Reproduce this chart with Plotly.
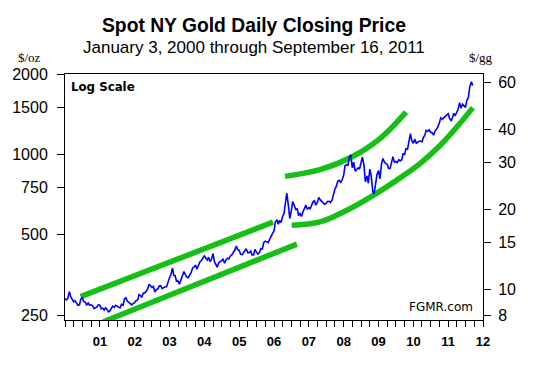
import numpy as np
import pandas as pd
import plotly.graph_objects as go

# Semi-monthly (1st, 15th) spot gold closes, $/oz
gold_2000 = [288, 285, 289, 306, 293, 287, 280, 283, 276, 272, 273, 287,
             290, 281, 279, 273, 277, 272, 273, 271, 264, 266, 268, 273]
gold_2001 = [272, 264, 265, 261, 266, 263, 257, 259, 265, 270, 267, 272,
             270, 267, 266, 274, 272, 287, 290, 282, 279, 275, 273, 276]
gold_2002 = [278, 283, 285, 298, 296, 291, 302, 302, 309, 312, 326, 320,
             317, 320, 305, 311, 313, 321, 322, 314, 318, 319, 319, 333]
gold_2003 = [345, 354, 375, 352, 351, 335, 335, 326, 339, 353, 364, 355,
             347, 345, 353, 360, 376, 378, 385, 371, 384, 395, 400, 409]
gold_2004 = [416, 409, 402, 412, 396, 404, 425, 397, 387, 378, 393, 395,
             400, 405, 391, 402, 408, 406, 417, 420, 428, 438, 453, 440]
gold_2005 = [436, 422, 421, 428, 435, 443, 428, 428, 434, 420, 420, 440,
             430, 423, 429, 443, 442, 468, 473, 470, 467, 480, 497, 505]
gold_2006 = [517, 558, 569, 547, 566, 555, 585, 600, 660, 715, 640, 575,
             615, 665, 645, 622, 625, 590, 600, 585, 610, 625, 645, 622]
gold_2007 = [632, 626, 650, 665, 670, 645, 662, 690, 675, 666, 660, 650,
             655, 666, 667, 660, 673, 710, 740, 758, 795, 800, 785, 800]
gold_2008 = [835, 906, 915, 910, 975, 995, 890, 935, 865, 875, 890, 880,
             935, 975, 913, 790, 830, 780, 880, 835, 725, 712, 775, 840]
gold_2009 = [870, 810, 920, 965, 940, 925, 920, 885, 885, 925, 980, 935,
             940, 930, 955, 945, 955, 1005, 1000, 1050, 1045, 1115, 1195, 1125]
gold_2010 = [1100, 1140, 1100, 1110, 1120, 1120, 1115, 1155, 1180, 1230, 1220, 1235,
             1210, 1205, 1180, 1220, 1250, 1268, 1315, 1370, 1355, 1370, 1385, 1400]
gold_2011 = [1420, 1365, 1335, 1375, 1425, 1395, 1430, 1475, 1560, 1490, 1540, 1525,
             1500, 1590, 1640, 1790, 1870, 1810]

gold_prices = (gold_2000 + gold_2001 + gold_2002 + gold_2003 + gold_2004 + gold_2005 +
               gold_2006 + gold_2007 + gold_2008 + gold_2009 + gold_2010 + gold_2011)
gold_dates = pd.date_range("2000-01-01", periods=len(gold_prices), freq="SMS")

# Green trend channel lines (date, $/oz)
chan1_dates = ["2000-06-13", "2005-12-20"]
chan1_vals = [293, 557]
chan2_dates = ["2001-02-06", "2006-08-29"]
chan2_vals = [236, 461]
curve_up_dates = ["2006-04-26", "2007-04-27", "2008-03-25", "2009-01-15", "2009-10-16"]
curve_up_vals = [827, 876, 977, 1145, 1440]
curve_lo_dates = ["2006-07-05", "2007-04-27", "2008-02-03", "2008-11-06", "2009-07-08",
                  "2010-03-11", "2010-10-09", "2011-04-01", "2011-09-16"]
curve_lo_vals = [542, 558, 617, 702, 799, 923, 1081, 1265, 1496]

oz_ticks = [250, 500, 750, 1000, 1500, 2000]
gg_ticks = [8, 10, 15, 20, 30, 40, 60]
year_ticks = [f"{y}-01-01" for y in range(2001, 2013)]
year_labels = [f"{y % 100:02d}" for y in range(2001, 2013)]
GRAMS_PER_OZ = 31.1035

GREEN = "#14C014"
fig = go.Figure()
for d, v, shape in [(chan1_dates, chan1_vals, "linear"), (chan2_dates, chan2_vals, "linear"),
                    (curve_up_dates, curve_up_vals, "spline"), (curve_lo_dates, curve_lo_vals, "spline")]:
    fig.add_trace(go.Scatter(x=d, y=v, mode="lines", line=dict(color=GREEN, width=5.5, shape=shape),
                             hoverinfo="skip", showlegend=False))
fig.add_trace(go.Scatter(x=gold_dates, y=gold_prices, mode="lines",
                         line=dict(color="#0000FF", width=1.6), showlegend=False))
# invisible trace for the right axis
fig.add_trace(go.Scatter(x=[gold_dates[0]], y=[gold_prices[0] / GRAMS_PER_OZ], yaxis="y2",
                         mode="markers", marker=dict(opacity=0), showlegend=False, hoverinfo="skip"))

ylo, yhi = np.log10(239.5), np.log10(2000)
tickfont = dict(family="Arial, Liberation Sans", size=16, color="black")
fig.update_layout(
    width=543, height=369,
    margin=dict(l=65, r=60, t=74, b=49),
    paper_bgcolor="white", plot_bgcolor="white",
    xaxis=dict(type="date", range=["2000-01-01", "2012-01-01"],
               tickvals=year_ticks, ticktext=year_labels,
               ticks="outside", ticklen=6, tickcolor="black",
               minor=dict(ticks="outside", dtick="M3", tick0="2000-01-01", ticklen=6, tickcolor="black"),
               showline=True, linecolor="black", linewidth=1, mirror=True,
               showgrid=False, zeroline=False, ticklabelstandoff=3,
               tickfont=dict(family="Arial, Liberation Sans", size=13, color="black", weight="bold")),
    yaxis=dict(type="log", range=[ylo, yhi], tickvals=oz_ticks, ticktext=[str(t) for t in oz_ticks],
               ticks="outside", ticklen=7, tickcolor="black", showline=True, linecolor="black",
               mirror=True, showgrid=False, zeroline=False, tickfont=tickfont, ticklabelstandoff=6),
    yaxis2=dict(type="log", overlaying="y", side="right",
                range=[ylo - np.log10(GRAMS_PER_OZ), yhi - np.log10(GRAMS_PER_OZ)],
                tickvals=gg_ticks, ticktext=[str(t) for t in gg_ticks],
                ticks="outside", ticklen=7, tickcolor="black", showline=True, linecolor="black",
                showgrid=False, zeroline=False, tickfont=tickfont, ticklabelstandoff=4),
)

def ann(text, x, y, size, family="Arial, Liberation Sans", bold=False, xanchor="center", pad=1):
    fig.add_annotation(text=text, x=x, y=y, xref="paper", yref="paper", showarrow=False,
                       xanchor=xanchor, yanchor="middle", borderpad=pad,
                       font=dict(family=family, size=size, color="black",
                                 weight="bold" if bold else "normal"))

ann("Spot NY Gold Daily Closing Price", 0.452, 1.199, 19.3, bold=True)
ann("January 3, 2000 through September 16, 2011", 0.452, 1.106, 17)
ann("$/oz", -0.086, 1.069, 13, family="Liberation Serif, Times New Roman", pad=0)
ann("$/gg", 0.995, 1.069, 13, family="Liberation Serif, Times New Roman", pad=0)
ann("Log Scale", 0.01, 0.948, 11.8, family="DejaVu Sans", bold=True, xanchor="left")
ann("FGMR.com", 0.981, 0.053, 12, family="DejaVu Sans", xanchor="right")

fig.write_html("out.html", config={"displayModeBar": False},
               post_script="document.body.style.margin='0';document.body.style.padding='0';")
